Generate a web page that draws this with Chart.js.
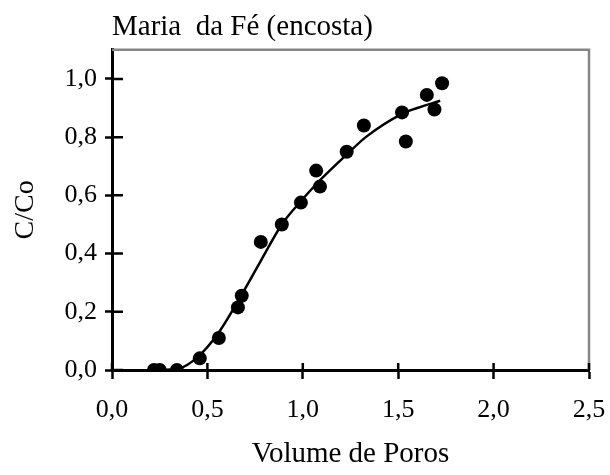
<!DOCTYPE html>
<html>
<head>
<meta charset="utf-8">
<script src="https://cdn.jsdelivr.net/npm/chart.js@4.4.1/dist/chart.umd.min.js"></script>
<style>
  body { margin: 0; background: #fff; }
  #wrap { width: 610px; height: 475px; }
</style>
</head>
<body>
<div id="wrap"><canvas id="myChart" width="610" height="475"></canvas></div>
<script>
// measured points
const pointX = [0.22, 0.25, 0.34, 0.46, 0.56, 0.66, 0.68, 0.78, 0.89, 0.99, 1.07, 1.09, 1.23, 1.32, 1.52, 1.54, 1.65, 1.69, 1.73];
const pointY = [0.0, 0.0, 0.0, 0.04, 0.11, 0.215, 0.255, 0.44, 0.50, 0.575, 0.685, 0.63, 0.75, 0.84, 0.885, 0.785, 0.945, 0.895, 0.985];

// fitted curve
const curveX = [0.22, 0.35, 0.45, 0.55, 0.65, 0.78, 0.89, 0.99, 1.08, 1.23, 1.33, 1.52, 1.60, 1.72];
const curveY = [0.0, 0.005, 0.045, 0.12, 0.225, 0.375, 0.50, 0.58, 0.645, 0.74, 0.80, 0.88, 0.90, 0.925];

const xTicks = [0, 0.5, 1.0, 1.5, 2.0, 2.5];
const yTicks = [0, 0.2, 0.4, 0.6, 0.8, 1.0];

const serif = "'Liberation Serif', 'Times New Roman', serif";

function comma(v) {
  return Number(v).toFixed(1).replace(".", ",");
}

// frame on top/right, and the inner half of the tick marks
const framePlugin = {
  id: "frame",
  afterDraw(chart) {
    const c = chart.ctx;
    const a = chart.chartArea;
    const xs = chart.scales.x;
    const ys = chart.scales.y;
    c.save();
    c.strokeStyle = "#868686";
    c.lineWidth = 2.5;
    c.beginPath();
    c.moveTo(a.left, a.top);
    c.lineTo(a.right, a.top);
    c.lineTo(a.right, a.bottom);
    c.stroke();

    c.strokeStyle = "#000";
    c.lineWidth = 2.5;
    c.beginPath();
    xs.ticks.forEach((t, i) => {
      const px = xs.getPixelForTick(i);
      c.moveTo(px, a.bottom);
      c.lineTo(px, a.bottom - 7);
    });
    ys.ticks.forEach((t, i) => {
      const py = ys.getPixelForTick(i);
      c.moveTo(a.left, py);
      c.lineTo(a.left + 11, py);
    });
    c.stroke();
    c.restore();
  },
};

const points = pointX.map((x, i) => ({ x: x, y: pointY[i] }));
const curve = curveX.map((x, i) => ({ x: x, y: curveY[i] }));

new Chart(document.getElementById("myChart"), {
  type: "scatter",
  data: {
    datasets: [
      {
        label: "curve",
        data: curve,
        showLine: true,
        borderColor: "#000",
        borderWidth: 2.5,
        pointRadius: 0,
        cubicInterpolationMode: "monotone",
      },
      {
        label: "C/Co",
        data: points,
        backgroundColor: "#000",
        borderColor: "#000",
        pointRadius: 7,
        borderWidth: 0,
      },
    ],
  },
  options: {
    responsive: false,
    animation: false,
    layout: { padding: { left: 0, right: 21, top: 0, bottom: 0 } },
    plugins: {
      legend: { display: false },
      tooltip: { enabled: false },
      title: {
        display: true,
        text: "Maria  da Fé (encosta)",
        align: "start",
        fullSize: false,
        color: "#000",
        font: { family: serif, size: 29, weight: "normal" },
        padding: { top: 10, bottom: 5 },
      },
    },
    scales: {
      x: {
        type: "linear",
        min: 0,
        max: 2.5,
        afterFit: (s) => {
          s.height = 105;
          s.paddingLeft = 0;
          s.paddingRight = 0;
        },
        afterBuildTicks: (s) => { s.ticks = xTicks.map((v) => ({ value: v })); },
        border: { color: "#000", width: 3 },
        grid: { drawOnChartArea: false, drawTicks: true, tickLength: 9, tickColor: "#000", tickWidth: 2.5 },
        ticks: {
          color: "#000",
          padding: 16,
          maxRotation: 0,
          font: { family: serif, size: 26 },
          callback: (v) => comma(v),
        },
        title: {
          display: true,
          text: "Volume de Poros",
          color: "#000",
          font: { family: serif, size: 29 },
          padding: { top: 0, bottom: 3 },
        },
      },
      y: {
        type: "linear",
        min: 0,
        max: 1.1,
        afterFit: (s) => {
          s.width = 112;
          s.paddingTop = 0;
          s.paddingBottom = 0;
        },
        afterBuildTicks: (s) => { s.ticks = yTicks.map((v) => ({ value: v })); },
        border: { color: "#000", width: 3 },
        grid: { drawOnChartArea: false, drawTicks: true, tickLength: 7, tickColor: "#000", tickWidth: 2.5 },
        ticks: {
          color: "#000",
          padding: 8,
          font: { family: serif, size: 26 },
          callback: (v) => comma(v),
        },
        title: {
          display: true,
          text: "C/Co",
          color: "#000",
          font: { family: serif, size: 28 },
          padding: { top: 9, bottom: 0 },
        },
      },
    },
  },
  plugins: [framePlugin],
});
</script>
</body>
</html>
